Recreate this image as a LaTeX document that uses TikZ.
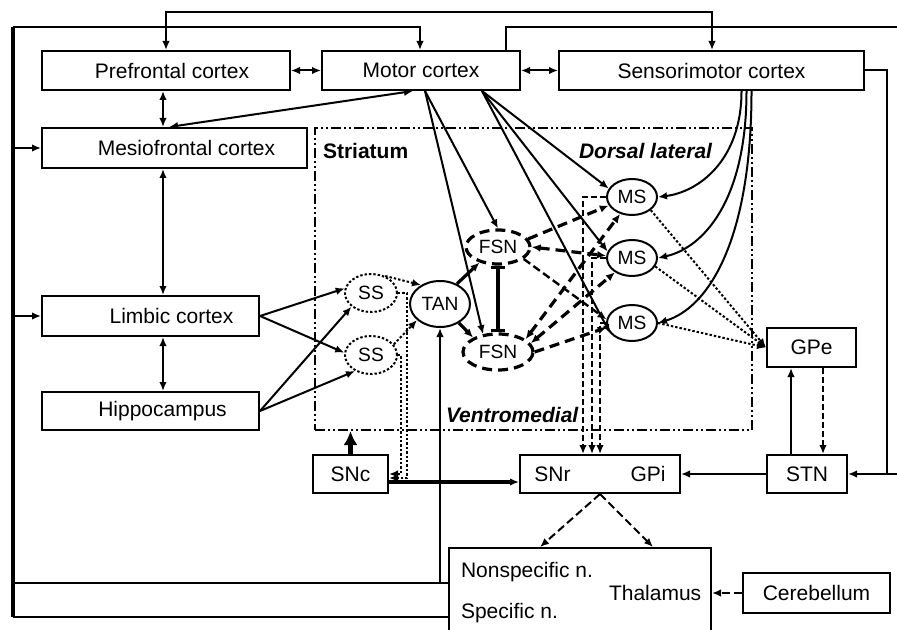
\documentclass[tikz,border=0pt]{standalone}
\usepackage{fontspec}
\setmainfont{Liberation Sans}
\usetikzlibrary{shapes.geometric,arrows.meta}
\tikzset{
  area/.style={draw,line width=1pt,minimum height=19.5pt,inner sep=0pt,font=\fontsize{10.5}{12}\selectfont},
  cell/.style={ellipse,draw,line width=1pt,inner sep=0pt,font=\fontsize{9.6}{11}\selectfont},
  lab/.style={inner sep=0pt,anchor=west,font=\fontsize{10.5}{12}\selectfont},
  ssdot/.style={line width=1pt,dash pattern=on 1.2pt off 1pt},
  fsndash/.style={line width=1.6pt,dash pattern=on 5pt off 3pt},
  msdash/.style={line width=0.9pt,dash pattern=on 3pt off 1.5pt},
  thdash/.style={line width=1pt,dash pattern=on 4pt off 2pt},
  region/.style={draw,line width=1pt,inner sep=0pt,dash pattern=on 5pt off 1.5pt on 1pt off 1.5pt on 1pt off 1.5pt}
}
\begin{document}
\begin{tikzpicture}[x=0.5pt,y=-0.5pt,>={Latex[length=4.5pt,width=3.8pt]},line width=1pt]
\useasboundingbox (0,0) rectangle (897,630);

\node[area,minimum width=124pt] (pfc) at (166,70.5) {\hspace*{6pt}Prefrontal cortex};
\node[area,minimum width=99pt] (mc) at (421,70.5) {Motor cortex};
\node[area,minimum width=152.5pt] (smc) at (711.5,70.5) {Sensorimotor cortex};
\node[area,minimum width=132.5pt,minimum height=20pt] (mfc) at (174.5,148) {\hspace*{12pt}Mesiofrontal cortex};
\node[area,minimum width=108.5pt,minimum height=20pt] (lc) at (150.5,316) {\hspace*{21pt}Limbic cortex};
\node[area,minimum width=108.5pt,minimum height=19pt] (hip) at (150.5,411) {\hspace*{12pt}Hippocampus};
\node[area,minimum width=37.5pt,minimum height=19pt] (snc) at (350.5,474) {SNc};
\node[area,minimum width=80pt,minimum height=19pt] (gpi) at (600,474) {SNr\hspace{30pt}GPi};
\node[area,minimum width=40pt,minimum height=19pt] (stn) at (807,474) {STN};
\node[area,minimum width=44.5pt] (gpe) at (811.5,347.5) {GPe};
\node[area,minimum width=131pt,minimum height=51pt] (thal) at (580,599) {};
\node[area,minimum width=73.5pt,minimum height=20pt] (cer) at (816.5,593) {Cerebellum};
\node[lab] (nsn) at (460,572) {Nonspecific n.};
\node[lab] (thn) at (608,593) {Thalamus};
\node[lab] (spn) at (460,613) {Specific n.};

\node[region,minimum width=218.5pt,minimum height=151pt] (str) at (533.5,279) {};
\node[lab,font=\fontsize{10.5}{12}\selectfont\bfseries] (strlab) at (322,151) {Striatum};
\node[lab,font=\fontsize{10.5}{12}\selectfont\bfseries\itshape] (dl) at (578,151) {Dorsal lateral};
\node[lab,font=\fontsize{10.5}{12}\selectfont\bfseries\itshape] (vm) at (445,415) {Ventromedial};

\node[cell,ssdot,minimum width=26pt,minimum height=19pt] (ss1) at (371,293) {SS};
\node[cell,ssdot,minimum width=26pt,minimum height=19pt] (ss2) at (371,355) {SS};
\node[cell,minimum width=30pt,minimum height=23pt] (tan) at (440,304) {TAN};
\node[cell,fsndash,minimum width=32pt,minimum height=17pt] (fsn1) at (498,247) {FSN};
\node[cell,fsndash,minimum width=35pt,minimum height=18pt] (fsn2) at (498,352) {FSN};
\node[cell,minimum width=25pt,minimum height=18pt] (ms1) at (632,197) {MS};
\node[cell,minimum width=25pt,minimum height=18pt] (ms2) at (632,258) {MS};
\node[cell,minimum width=25pt,minimum height=18pt] (ms3) at (632,323) {MS};

\coordinate (ltop) at (13,27);
\coordinate (lbot) at (13,617);
\coordinate (thA) at (449,583);
\coordinate (thB) at (449,617);
\coordinate (rtop) at (905,27);
\coordinate (rjoin) at (887,474);
\coordinate (vx) at (163,12);
\coordinate (top) at (712,12);

\draw[<->] (pfc.north) |- (top) -- (top |- smc.north);
\draw[line width=1.6pt] (lbot) -- (ltop);
\draw[->] (ltop) -| ([xshift=-0.5pt]mc.north);
\draw[->] (ltop |- mfc.west) -- (mfc.west);
\draw[->] (ltop |- lc.west) -- (lc.west);
\draw (thA) -- (ltop |- thA);
\draw (thB) -- (lbot);
\draw[->] (thA -| tan) -- (tan.south);
\draw[->] (smc.east) -| (rjoin) -- (stn.east);
\draw ([xshift=-7.5pt]mc.north east) |- (rtop) |- (rjoin);

\draw[<->] (pfc.east) -- (mc.west);
\draw[<->] (mc.east) -- (smc.west);
\draw[<->] (pfc.south -| vx) -- (mfc.north -| vx);
\draw[<->] (mfc.south -| vx) -- (lc.north -| vx);
\draw[<->] (lc.south -| vx) -- (hip.north -| vx);
\draw[<->] ([xshift=3pt]mfc.north -| vx) -- ([xshift=-4pt]mc.south);

\draw[->] (lc.east) -- (ss1.170);
\draw[->] (lc.east) -- (ss2.175);
\draw[->] (hip.east) -- (ss1.215);
\draw[->] (hip.east) -- (ss2.225);
\draw[->,ssdot] (ss1.50) -- (tan.135);
\draw[->,ssdot] (ss2.25) -- (tan.215);
\draw[->,ssdot] (ss1.east) -| ([xshift=9pt,yshift=-2pt]snc.east) -- ([yshift=-2pt]snc.east);
\draw[->,ssdot] (ss2.east) -| ([xshift=6pt]snc.east) -- (snc.east);

\draw[-{Latex[length=7pt,width=7pt]},line width=2.5pt] (snc.north) -- (snc.north |- str.south);
\draw[->,line width=2pt] ([yshift=-4pt]snc.east) -- ([yshift=-4pt]gpi.west);

\draw[->] ([xshift=2pt]mc.south) -- (fsn1.north);
\draw[->] ([xshift=2pt]mc.south) -- (fsn2.130);
\draw[->] ([xshift=30.5pt]mc.south) -- (ms1.160);
\draw[->] ([xshift=30.5pt]mc.south) -- (ms2.165);
\draw[->] ([xshift=30.5pt]mc.south) -- (ms3.205);
\draw[->] ([xshift=15pt]smc.south) .. controls +(0,70) and +(40,-5) .. (ms1.east);
\draw[->] ([xshift=17.5pt]smc.south) .. controls +(0,110) and +(45,-10) .. (ms2.east);
\draw[->] ([xshift=20pt]smc.south) .. controls +(0,150) and +(50,-15) .. (ms3.east);

\draw[{Bar[width=7pt]}-{Bar[width=7pt]},line width=1.8pt] (fsn1.south) -- (fsn2.north);
\draw[->,line width=1.6pt] (tan.50) -- (fsn1.220);
\draw[->,line width=1.6pt] (tan.-45) -- (fsn2.150);
\draw[->,fsndash] (fsn1.15) -- (ms1.200);
\draw[<->,fsndash] (fsn1.east) -- (ms2.175);
\draw[<->,fsndash] (fsn2.25) -- (ms1.235);
\draw[<->,fsndash] (fsn2.15) -- (ms2.220);
\draw[->,fsndash] (fsn2.east) -- (ms3.190);
\draw[->,line width=1.2pt,dash pattern=on 4pt off 2pt] (fsn1.-25) -- (ms3.172);

\draw[->,ssdot] (ms1.-35) -- (gpe.west);
\draw[->,ssdot] (ms2.-20) -- (gpe.west);
\draw[->,ssdot] (ms3.east) -- (gpe.west);
\draw[->,msdash] (ms1.west) -| ([xshift=-8.5pt]gpi.north);
\draw[->,msdash] (ms2.west) -| ([xshift=-4pt]gpi.north);
\draw[->,msdash] (ms3.west) -| (gpi.north);

\draw[->] ([xshift=-8pt]stn.north) -- ([xshift=-8pt]stn.north |- gpe.south);
\draw[->,msdash] ([xshift=8pt]stn.north |- gpe.south) -- ([xshift=8pt]stn.north);
\draw[->] (stn.west) -- (gpi.east);
\draw[->,thdash] (gpi.south) -- ([xshift=-20pt]thal.north);
\draw[->,thdash] (gpi.south) -- ([xshift=36.5pt]thal.north);
\draw[->,thdash] (cer.west) -- (cer.west -| thal.east);
\end{tikzpicture}
\end{document}
